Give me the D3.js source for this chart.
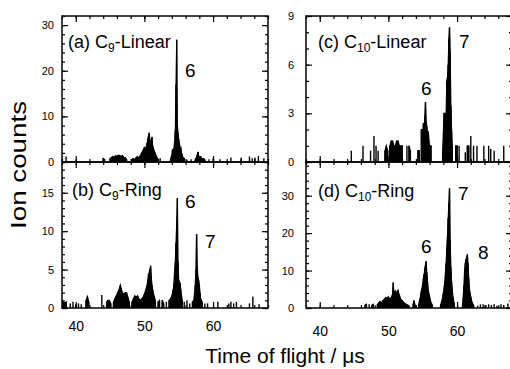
<!DOCTYPE html>
<html>
<head>
<meta charset="utf-8">
<script src="https://cdn.jsdelivr.net/npm/d3@7"></script>
<style>
body { margin: 0; background: #fff; }
text { font-family: "Liberation Sans", Arial, Helvetica, sans-serif; }
</style>
</head>
<body>
<div id="chart"></div>
<script>
// (a) C9-Linear
var aTime = [38.6, 44.0, 44.2, 45.0, 45.2, 45.4, 45.6, 45.8, 46.0, 46.2, 46.4, 46.6, 46.8, 47.0, 47.2, 47.4,
  48.2, 48.4, 48.6, 48.8, 49.0, 49.2, 49.4, 49.6, 49.8, 50.0, 50.2, 50.4, 50.5, 50.6, 50.7, 50.8, 50.9, 51.0, 51.1, 51.2, 51.3, 51.5, 51.7, 51.9,
  52.3, 53.8, 54.0, 54.1, 54.2, 54.3, 54.4, 54.5, 54.6, 54.7, 54.8, 54.9, 55.0, 55.1, 55.2, 55.3, 55.4, 55.5, 55.6, 55.8,
  56.2, 56.8, 57.4, 57.6, 57.7, 57.8, 57.9, 58.0, 58.2, 58.4, 58.6, 58.8,
  59.4, 60.0, 61.0, 62.6, 64.1, 65.3, 65.7, 66.1, 66.6, 67.4];
var aCount = [1.2, 0.8, 0.6, 0.8, 1.0, 1.2, 1.0, 1.4, 1.2, 1.5, 1.4, 1.2, 1.4, 1.0, 1.0, 0.6,
  0.6, 0.8, 0.5, 1.0, 1.2, 0.8, 1.4, 2.0, 2.6, 3.2, 3.0, 4.2, 5.0, 5.8, 6.4, 4.6, 4.4, 5.0, 5.5, 3.6, 3.0, 2.2, 1.4, 0.8,
  0.8, 0.6, 1.6, 2.8, 2.2, 3.0, 4.4, 7.0, 17.0, 26.8, 8.0, 6.4, 5.0, 4.0, 3.0, 3.2, 2.0, 1.6, 1.0, 0.8,
  0.5, 0.6, 0.6, 1.0, 1.6, 2.2, 1.4, 1.0, 1.2, 0.6, 0.8, 0.5,
  0.6, 0.8, 0.6, 1.0, 1.0, 1.2, 0.8, 1.0, 1.3, 0.8];

// (b) C9-Ring
var bTime = [38.0, 38.2, 38.4, 38.6, 39.2, 39.6, 40.0, 40.4, 40.8, 41.5, 41.7, 41.9,
  43.8, 44.5, 44.7, 44.9, 45.1, 45.5, 45.7, 45.9, 46.1, 46.3, 46.5, 46.6, 46.8, 47.0, 47.2, 47.4, 47.6, 47.8,
  48.2, 48.4, 48.6, 48.8, 49.0, 49.2, 49.4, 49.6, 49.8, 50.0, 50.2, 50.4, 50.6, 50.7, 50.8, 50.9, 51.0, 51.1, 51.2, 51.4, 51.6,
  52.0, 52.2, 52.6, 52.8, 53.2, 53.6, 53.8, 54.0, 54.2, 54.3, 54.4, 54.5, 54.6, 54.7, 54.8, 54.9, 55.0, 55.1, 55.2, 55.3, 55.4, 55.5,
  55.8, 56.2, 56.6, 57.0, 57.2, 57.3, 57.4, 57.5, 57.6, 57.7, 57.8, 57.9, 58.0, 58.1, 58.2, 58.4,
  58.8, 59.2, 60.7, 62.3, 62.6, 63.0, 63.4, 65.3, 65.8, 66.7];
var bCount = [1.0, 0.8, 0.6, 0.8, 0.6, 0.8, 0.5, 0.6, 0.5, 1.0, 1.5, 0.8,
  1.7, 0.8, 1.0, 1.0, 0.6, 0.8, 1.2, 1.6, 2.0, 2.4, 3.0, 2.6, 2.0, 1.8, 2.0, 2.0, 1.4, 0.8,
  0.8, 1.2, 1.6, 1.4, 1.6, 1.2, 1.0, 1.2, 1.4, 1.8, 2.4, 3.0, 4.4, 4.6, 5.0, 5.5, 4.2, 3.0, 2.4, 1.6, 1.0,
  0.8, 1.0, 1.0, 0.6, 0.8, 1.0, 1.2, 1.6, 2.4, 3.2, 4.8, 6.0, 8.5, 11.0, 14.3, 6.0, 3.6, 3.4, 3.2, 2.4, 1.6, 1.0,
  0.8, 1.0, 0.6, 0.8, 1.0, 1.8, 3.0, 5.0, 9.6, 5.4, 4.0, 3.6, 3.0, 2.0, 1.2, 0.8,
  0.6, 0.6, 0.8, 0.6, 0.8, 0.6, 0.8, 0.6, 1.5, 0.5];

// (c) C10-Linear
var cTime = [44.6, 46.3, 47.4, 47.9, 48.2, 48.5,
  49.5, 49.7, 49.9, 50.2, 50.4, 50.6, 50.8, 51.0, 51.2, 51.4, 51.6, 51.8, 52.0,
  52.7, 53.0, 53.2, 54.3, 54.5,
  54.8, 54.9, 55.0, 55.1, 55.2, 55.3, 55.4, 55.5, 55.6, 55.7, 55.8, 56.0, 56.2,
  57.9, 58.1, 58.2, 58.4, 58.5, 58.6, 58.7, 58.8, 58.9, 59.0, 59.1, 59.2, 59.3,
  59.8, 60.0, 60.3, 61.2, 61.5, 61.7, 62.0, 62.4, 62.9, 63.9, 64.6, 64.9, 65.4, 66.8];
var cCount = [0.7, 1.0, 0.7, 1.6, 1.0, 0.7,
  0.7, 1.0, 0.7, 1.0, 1.3, 1.3, 1.0, 1.0, 1.3, 1.3, 1.0, 1.0, 1.0,
  1.0, 1.0, 0.7, 0.7, 0.7,
  2.0, 2.0, 1.8, 2.4, 2.0, 2.8, 3.7, 2.5, 2.2, 1.4, 1.9, 1.0, 1.0,
  0.7, 3.0, 3.0, 3.0, 5.0, 5.2, 6.0, 7.6, 8.3, 6.8, 3.5, 2.0, 1.0,
  1.0, 1.0, 1.0, 0.6, 1.0, 1.0, 1.6, 1.0, 1.0, 1.0, 1.0, 0.8, 0.7, 1.0];

// (d) C10-Ring
var dTime = [38.3, 46.6, 46.8, 47.2, 47.6, 47.8,
  48.4, 48.6, 48.8, 49.0, 49.2, 49.4, 49.6, 49.8, 50.0, 50.2, 50.4, 50.6, 50.7, 50.8, 51.0, 51.2, 51.4, 51.6, 51.8,
  52.0, 52.2, 52.4, 52.6, 52.8, 53.0, 53.6, 53.7, 53.9,
  54.4, 54.6, 54.8, 55.0, 55.1, 55.2, 55.3, 55.4, 55.5, 55.6, 55.7, 55.8, 56.0, 56.2, 56.4,
  57.6, 57.8, 58.0, 58.2, 58.4, 58.5, 58.6, 58.7, 58.8, 58.9, 59.0, 59.1, 59.2, 59.4, 59.6,
  60.8, 61.0, 61.1, 61.2, 61.3, 61.4, 61.5, 61.6, 61.7, 61.8, 61.9, 62.0, 62.2, 62.4,
  63.0, 63.4, 63.8, 64.2, 64.6, 65.0, 65.4, 65.8, 66.4, 66.8, 67.4];
var dCount = [0.3, 0.8, 1.0, 1.0, 0.8, 1.0,
  1.0, 1.4, 1.8, 1.4, 2.0, 2.4, 2.8, 2.6, 3.0, 2.4, 2.8, 3.6, 6.8, 4.0, 4.6, 4.0, 4.8, 3.4, 2.4,
  2.0, 1.6, 1.2, 1.0, 0.8, 0.6, 1.0, 2.0, 0.8,
  1.0, 2.5, 4.5, 6.5, 8.0, 9.0, 10.5, 11.5, 12.5, 9.5, 7.0, 5.0, 3.0, 1.5, 0.8,
  0.8, 2.0, 4.0, 7.0, 12.0, 16.0, 19.0, 24.0, 28.0, 32.0, 18.0, 11.0, 7.0, 3.0, 1.2,
  1.0, 6.0, 10.0, 12.0, 13.0, 13.5, 14.3, 12.0, 8.0, 5.0, 4.0, 3.0, 1.5, 0.8,
  0.6, 1.0, 1.0, 0.8, 1.0, 0.8, 1.0, 0.6, 1.0, 0.8, 1.2];

var xTicks = [40, 50, 60];
var aTicks = [0, 10, 20, 30];
var bTicks = [0, 5, 10, 15];
var cTicks = [0, 3, 6, 9];
var dTicks = [0, 10, 20, 30];

var width = 510, height = 369;
var xMin = 38, xMax = 68;

var svg = d3.select("#chart").append("svg")
  .attr("width", width)
  .attr("height", height);

var panels = [
  {id: "a", time: aTime, count: aCount, x0: 62, x1: 268, y0: 16, y1: 162, ymax: 32, ticks: aTicks, minor: 2,
   letter: "(a) C", sub: "9", rest: "-Linear", lx: 68, ly: 48, xlabels: false, ypad: 8, xpad: 13,
   peaks: [{t: "6", x: 185, y: 77}]},
  {id: "b", time: bTime, count: bCount, x0: 62, x1: 268, y0: 162, y1: 308, ymax: 19, ticks: bTicks, minor: 1,
   letter: "(b) C", sub: "9", rest: "-Ring", lx: 72, ly: 196, xlabels: true, ypad: 8, xpad: 13,
   peaks: [{t: "6", x: 185, y: 208}, {t: "7", x: 205, y: 248}]},
  {id: "c", time: cTime, count: cCount, x0: 306, x1: 512, y0: 16, y1: 162, ymax: 9, ticks: cTicks, minor: 1,
   letter: "(c) C", sub: "10", rest: "-Linear", lx: 318, ly: 48, xlabels: false, ypad: 12, xpad: 18,
   peaks: [{t: "6", x: 421, y: 95}, {t: "7", x: 459, y: 48}]},
  {id: "d", time: dTime, count: dCount, x0: 306, x1: 512, y0: 162, y1: 308, ymax: 39, ticks: dTicks, minor: 2,
   letter: "(d) C", sub: "10", rest: "-Ring", lx: 318, ly: 197, xlabels: true, ypad: 12, xpad: 18,
   peaks: [{t: "6", x: 421, y: 253}, {t: "7", x: 458, y: 200}, {t: "8", x: 478, y: 259}]}
];

panels.forEach(function(p) { drawPanel(p) });

function drawPanel(p) {
  var x = d3.scaleLinear().domain([xMin, xMax]).range([p.x0, p.x1]);
  var y = d3.scaleLinear().domain([0, p.ymax]).range([p.y1, p.y0]);

  var g = svg.append("g");

  g.append("clipPath").attr("id", "clip" + p.id)
    .append("rect")
    .attr("x", p.x0).attr("y", p.y0)
    .attr("width", p.x1 - p.x0).attr("height", p.y1 - p.y0);

  var pts = p.time.map(function(t, i) { return {t: t, c: p.count[i]} });

  // group neighbouring bins into peaks
  var groups = [];
  var cur = [];
  pts.forEach(function(d, i) {
    if (i > 0 && d.t - pts[i - 1].t > 0.21) {
      groups.push(cur);
      cur = [];
    }
    cur.push(d);
  });
  groups.push(cur);

  var data = g.append("g").attr("clip-path", "url(#clip" + p.id + ")");

  var area = d3.area()
    .x(function(d) { return x(d.t) })
    .y0(y(0))
    .y1(function(d) { return y(d.c) });

  data.selectAll("path.peak")
    .data(groups.filter(function(gr) { return gr.length > 1 }))
    .enter()
    .append("path")
    .attr("class", "peak")
    .attr("d", area)
    .attr("fill", "#000")
    .attr("stroke", "#000")
    .attr("stroke-width", 1.1)
    .attr("stroke-linejoin", "miter");

  data.selectAll("line.spike")
    .data(pts)
    .enter()
    .append("line")
    .attr("class", "spike")
    .attr("x1", function(d) { return x(d.t) })
    .attr("x2", function(d) { return x(d.t) })
    .attr("y1", y(0))
    .attr("y2", function(d) { return y(d.c) })
    .attr("stroke", "#000")
    .attr("stroke-width", 1.4);

  // ticks on all four sides, pointing inward
  var xMinor = d3.range(xMin, xMax + 0.1, 2);
  var yMinor = d3.range(0, p.ymax + 0.01, p.minor);

  function clean(sel) {
    sel.select(".domain").remove();
    sel.selectAll(".tick line").attr("stroke", "#000").attr("stroke-width", 1.2);
  }

  g.append("g").attr("transform", "translate(0," + p.y1 + ")")
    .call(d3.axisBottom(x).tickValues(xMinor).tickSize(-3).tickFormat(""))
    .call(clean);
  g.append("g").attr("transform", "translate(0," + p.y0 + ")")
    .call(d3.axisTop(x).tickValues(xMinor).tickSize(-3).tickFormat(""))
    .call(clean);
  g.append("g").attr("transform", "translate(0," + p.y0 + ")")
    .call(d3.axisTop(x).tickValues(xTicks).tickSize(-6).tickFormat(""))
    .call(clean);

  var xb = g.append("g").attr("transform", "translate(0," + p.y1 + ")")
    .call(d3.axisBottom(x).tickValues(xTicks).tickSize(-6).tickPadding(p.xpad)
      .tickFormat(p.xlabels ? d3.format("d") : ""))
    .call(clean);
  xb.selectAll("text").attr("font-size", 14).attr("font-family", "Liberation Sans, Arial, sans-serif").attr("fill", "#000");

  g.append("g").attr("transform", "translate(" + p.x0 + ",0)")
    .call(d3.axisLeft(y).tickValues(yMinor).tickSize(-3).tickFormat(""))
    .call(clean);
  g.append("g").attr("transform", "translate(" + p.x1 + ",0)")
    .call(d3.axisRight(y).tickValues(yMinor).tickSize(-3).tickFormat(""))
    .call(clean);
  g.append("g").attr("transform", "translate(" + p.x1 + ",0)")
    .call(d3.axisRight(y).tickValues(p.ticks).tickSize(-6).tickFormat(""))
    .call(clean);

  var yl = g.append("g").attr("transform", "translate(" + p.x0 + ",0)")
    .call(d3.axisLeft(y).tickValues(p.ticks).tickSize(-6).tickPadding(p.ypad).tickFormat(d3.format("d")))
    .call(clean);
  yl.selectAll("text").attr("font-size", 11).attr("font-family", "Liberation Sans, Arial, sans-serif").attr("fill", "#000");

  // frame
  g.append("rect")
    .attr("x", p.x0).attr("y", p.y0)
    .attr("width", p.x1 - p.x0).attr("height", p.y1 - p.y0)
    .attr("fill", "none")
    .attr("stroke", "#000")
    .attr("stroke-width", 1.5);

  // panel title with subscript
  var title = g.append("text")
    .attr("x", p.lx).attr("y", p.ly)
    .attr("font-size", 18)
    .attr("fill", "#000");
  title.append("tspan").text(p.letter);
  title.append("tspan").text(p.sub).attr("font-size", 12).attr("dy", 4);
  title.append("tspan").text(p.rest).attr("dy", -4);

  g.selectAll("text.peaklabel")
    .data(p.peaks)
    .enter()
    .append("text")
    .attr("class", "peaklabel")
    .attr("x", function(d) { return d.x })
    .attr("y", function(d) { return d.y })
    .attr("font-size", 19)
    .attr("fill", "#000")
    .text(function(d) { return d.t });
}

svg.append("text")
  .attr("transform", "translate(26,165) rotate(-90)")
  .attr("text-anchor", "middle")
  .attr("font-size", 22)
  .attr("textLength", 128)
  .attr("lengthAdjust", "spacingAndGlyphs")
  .attr("fill", "#000")
  .text("Ion counts");

svg.append("text")
  .attr("x", 285).attr("y", 363)
  .attr("text-anchor", "middle")
  .attr("font-size", 21)
  .attr("fill", "#000")
  .text("Time of flight / μs");
</script>
</body>
</html>
